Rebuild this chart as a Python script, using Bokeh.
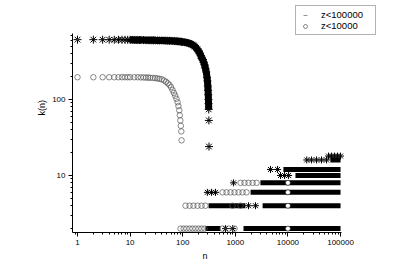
import math
from bokeh.plotting import figure
from bokeh.models import (Legend, LegendItem, Title, PrintfTickFormatter,
                          Range1d)
from bokeh.embed import file_html
from bokeh.resources import INLINE

# ---- data ----
# series z<100000 (stars): main decaying curve
star_n = [1, 2, 3, 4, 5, 6, 7, 8, 9, 10, 11, 12, 13, 14, 15, 16, 18, 20, 22, 24,
          26, 28, 30, 33, 36, 40, 44, 48, 52, 56, 60, 65, 70, 75, 80, 85, 90, 95,
          100, 110, 120, 130, 140, 150, 160, 170, 180, 190, 200, 210, 220, 230,
          240, 250, 260, 270, 280, 290, 295, 300, 303, 306, 308, 310, 312, 314, 316]
star_k = [612, 612, 611, 611, 610, 610, 610, 609, 609, 608, 608, 607, 607, 606,
          606, 605, 604, 603, 602, 601, 600, 600, 599, 598, 597, 596, 595, 594,
          592, 591, 590, 588, 586, 584, 582, 580, 577, 574, 571, 565, 558, 550,
          540, 528, 514, 497, 478, 455, 430, 405, 378, 350, 335, 310, 285, 258,
          230, 195, 175, 150, 132, 115, 100, 88, 74, 53, 24]

# series z<100000: dense horizontal bands (k value, first n, last n)
band_k = [2, 2, 4, 4, 6, 8, 10, 12, 16]
band_n0 = [270, 1430, 310, 3300, 1950, 3000, 13900, 8200, 64000]
band_n1 = [520, 100000, 1550, 100000, 100000, 100000, 100000, 100000, 100000]

# series z<100000: sparse points near the bands
sparse_n = [650, 890, 1780, 2420, 294, 353, 420, 925, 7220, 8630, 10300, 4660,
            6350, 22800, 28100, 35000, 43500, 54200, 59100, 67500, 76900, 87700,
            100000]
sparse_k = [2, 2, 4, 4, 6, 6, 6, 8, 10, 10, 10, 12, 12, 16, 16, 16, 16, 16, 18,
            18, 18, 18, 18]

# series z<10000 (circles): main decaying curve
circ_n = [1, 2, 3, 4, 5, 6, 7, 8, 9, 10, 12, 14, 16, 18, 20, 22, 24, 27, 30, 33,
          36, 40, 44, 48, 52, 56, 60, 64, 68, 72, 76, 80, 83, 86, 88, 90, 92, 94, 95]
circ_k = [196, 196, 196, 196, 196, 196, 196, 196, 196, 196, 196, 196, 195, 195,
          194, 194, 193, 192, 191, 189, 187, 184, 178, 171, 163, 155, 145, 133,
          122, 112, 102, 92, 82, 72, 62, 53, 45, 38, 29]

# series z<10000: low-k points
circ_low_n = [91, 104, 118, 135, 154, 175, 200, 228, 260, 571, 743, 966,
              113, 135, 160, 191, 228, 270, 885, 1256,
              571, 680, 810, 966, 1150, 1370, 1630,
              1256, 1495, 1784, 2130, 2540]
circ_low_k = [2, 2, 2, 2, 2, 2, 2, 2, 2, 2, 2, 2,
              4, 4, 4, 4, 4, 4, 4, 4,
              6, 6, 6, 6, 6, 6, 6,
              8, 8, 8, 8, 8]

# last circles (n = 10000) sitting on the black bands
circ_end_n = [10000, 10000, 10000, 10000]
circ_end_k = [2, 4, 6, 8]

legend_labels = ["z<100000", "z<10000"]
x_label = "n"
y_label = "k(n)"

# axis extents (the frame is larger so the legend fits inside it)
x_axis_bounds = (0.803, 104400)
y_axis_bounds = (1.778, 738)

FONT = "Liberation Sans"

p = figure(width=383, height=262, x_axis_type="log", y_axis_type="log",
           output_backend="svg", toolbar_location=None,
           x_range=Range1d(0.803, 575000), y_range=Range1d(1.778, 1722),
           min_border_left=72, min_border_right=3, min_border_top=5,
           min_border_bottom=30)
p.outline_line_color = None
p.xgrid.visible = False
p.ygrid.visible = False
p.background_fill_color = "white"
p.border_fill_color = "white"

p.xaxis[0].bounds = x_axis_bounds
p.yaxis[0].bounds = y_axis_bounds
for ax in (p.xaxis[0], p.yaxis[0]):
    ax.axis_line_color = "black"
    ax.major_tick_out = 4
    ax.major_tick_in = 0
    ax.minor_tick_out = 2
    ax.minor_tick_in = 0
    ax.major_tick_line_color = "black"
    ax.minor_tick_line_color = "black"
    ax.major_label_text_font = FONT
    ax.major_label_text_font_size = "8px"
    ax.major_label_text_color = "black"
    ax.major_label_standoff = 3
    ax.formatter = PrintfTickFormatter(format="%d")

# thick band of dense stars on the main curve
p.line(star_n[9:-2], star_k[9:-2], line_color="black", line_width=7)
# dense horizontal bands
p.segment(x0=band_n0, y0=band_k, x1=band_n1, y1=band_k,
          line_color="black", line_width=5)

p.scatter(star_n, star_k, marker="asterisk", size=8,
          line_color="black", line_width=1)
p.scatter(sparse_n, sparse_k, marker="asterisk", size=7,
          line_color="black", line_width=1)

# legend swatch for the star series: a small grey slash hidden under the first star
leg_star = p.scatter(x=star_n[:1], y=star_k[:1], marker="dash",
                     angle=math.pi / 4, size=5, line_color="#777777",
                     line_width=0.8)

circles = p.scatter(circ_n, circ_k, marker="circle", size=5.5, fill_color=None,
                    line_color="#555555", line_width=0.7)
p.scatter(circ_low_n, circ_low_k, marker="circle", size=5.5, fill_color=None,
          line_color="#555555", line_width=0.7)
p.scatter(circ_end_n, circ_end_k, marker="circle", size=5, fill_color="white",
          line_color="black", line_width=0.6)

legend = Legend(items=[LegendItem(label=legend_labels[0], renderers=[leg_star]),
                       LegendItem(label=legend_labels[1], renderers=[circles])],
                location=(223, 197))
legend.border_line_color = "#666666"
legend.border_line_width = 1
legend.padding = 3
legend.spacing = 0
legend.margin = 0
legend.glyph_width = 12
legend.glyph_height = 10
legend.label_height = 10
legend.label_width = 51
legend.label_standoff = 10
legend.label_text_font = FONT
legend.label_text_font_size = "9.5px"
legend.label_text_color = "black"
p.add_layout(legend)

p.add_layout(Title(text=y_label, align="left", offset=117, standoff=5,
                   text_font=FONT, text_font_size="9px",
                   text_font_style="normal", text_color="black"), "left")
p.add_layout(Title(text=x_label, align="left", offset=130, standoff=2,
                   text_font=FONT, text_font_size="9px",
                   text_font_style="normal", text_color="black"), "below")

open("out.html", "w").write(file_html(p, INLINE))
